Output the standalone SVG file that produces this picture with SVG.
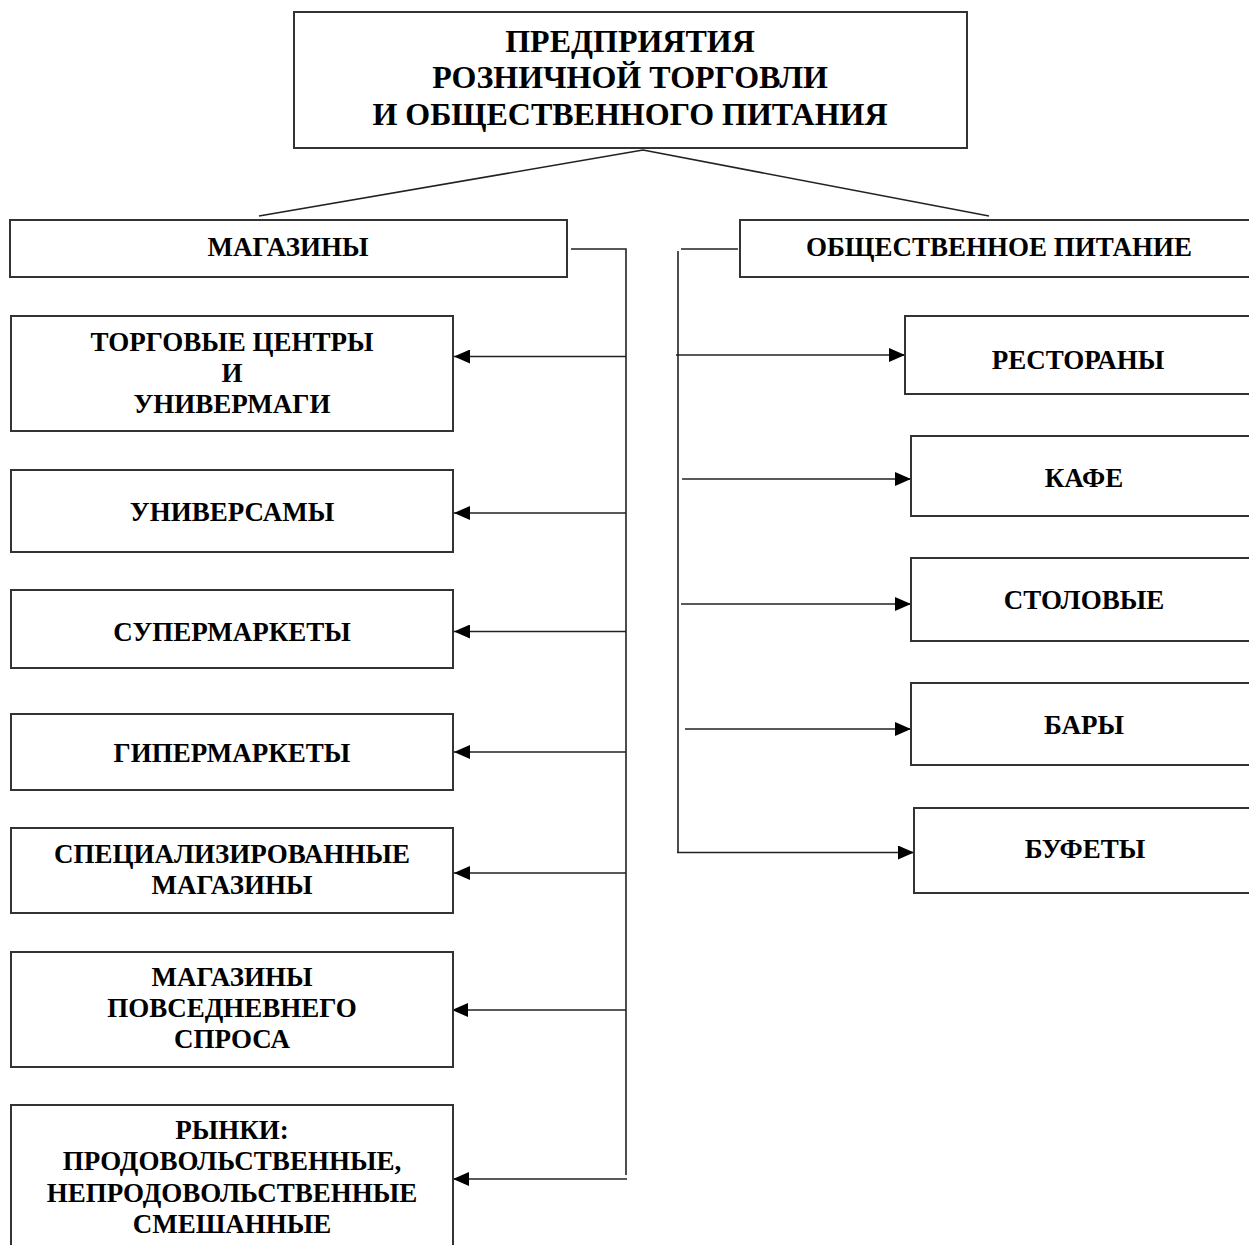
<svg xmlns="http://www.w3.org/2000/svg" width="1249" height="1245" viewBox="0 0 1249 1245">
<defs>
<marker id="arr" markerUnits="userSpaceOnUse" markerWidth="16" markerHeight="14" refX="16" refY="7" orient="auto">
<path d="M0,0 L16,7 L0,14 z" fill="#000"/>
</marker>
<style>
.box{fill:#fff;stroke:#333;stroke-width:2}
.t{font-family:"Liberation Serif","Times New Roman",serif;font-weight:bold;font-size:27px;fill:#000;text-anchor:middle}
.tt{font-size:32px}
.ln{fill:none;stroke:#222;stroke-width:1.6}
.ar{fill:none;stroke:#222;stroke-width:1.6;marker-end:url(#arr)}
</style>
</defs>
<rect width="1249" height="1245" fill="#fff"/>

<g id="connectors">
<path class="ln" d="M643,150 L259,216 M643,150 L989,216"/>
<path class="ln" d="M571,249 H626 V1175"/>
<path class="ln" d="M738,249 H681 M678,251 V852"/>
<line class="ar" x1="626" y1="356.5" x2="454" y2="356.5"/>
<line class="ar" x1="626" y1="513" x2="454" y2="513"/>
<line class="ar" x1="626" y1="631.5" x2="454" y2="631.5"/>
<line class="ar" x1="626" y1="752" x2="454" y2="752"/>
<line class="ar" x1="626" y1="873" x2="454" y2="873"/>
<line class="ar" x1="626" y1="1010" x2="452" y2="1010"/>
<line class="ar" x1="627" y1="1179" x2="453" y2="1179"/>
<line class="ar" x1="676" y1="355" x2="905" y2="355"/>
<line class="ar" x1="682" y1="479" x2="911" y2="479"/>
<line class="ar" x1="681" y1="604" x2="911" y2="604"/>
<line class="ar" x1="685" y1="729" x2="911" y2="729"/>
<line class="ar" x1="677" y1="852.5" x2="914" y2="852.5"/>
</g>

<g id="root">
<rect class="box" x="294" y="12" width="673" height="136"/>
<text class="t tt" x="630" y="52">ПРЕДПРИЯТИЯ</text>
<text class="t tt" x="630" y="88">РОЗНИЧНОЙ ТОРГОВЛИ</text>
<text class="t tt" x="630" y="125">И ОБЩЕСТВЕННОГО ПИТАНИЯ</text>
</g>

<g id="magaziny">
<rect class="box" x="10" y="220" width="557" height="57"/>
<text class="t" x="288" y="256">МАГАЗИНЫ</text>
</g>

<g id="obshchepit">
<rect class="box" x="740" y="220" width="520" height="57"/>
<text class="t" x="999" y="256">ОБЩЕСТВЕННОЕ ПИТАНИЕ</text>
</g>

<g id="torg-centry">
<rect class="box" x="11" y="316" width="442" height="115"/>
<text class="t" x="232" y="351">ТОРГОВЫЕ ЦЕНТРЫ</text>
<text class="t" x="232" y="382">И</text>
<text class="t" x="232" y="413">УНИВЕРМАГИ</text>
</g>

<g id="universamy">
<rect class="box" x="11" y="470" width="442" height="82"/>
<text class="t" x="232" y="521">УНИВЕРСАМЫ</text>
</g>

<g id="supermarkety">
<rect class="box" x="11" y="590" width="442" height="78"/>
<text class="t" x="232" y="641">СУПЕРМАРКЕТЫ</text>
</g>

<g id="gipermarkety">
<rect class="box" x="11" y="714" width="442" height="76"/>
<text class="t" x="232" y="762">ГИПЕРМАРКЕТЫ</text>
</g>

<g id="specializ">
<rect class="box" x="11" y="828" width="442" height="85"/>
<text class="t" x="232" y="863">СПЕЦИАЛИЗИРОВАННЫЕ</text>
<text class="t" x="232" y="894">МАГАЗИНЫ</text>
</g>

<g id="povsednev">
<rect class="box" x="11" y="952" width="442" height="115"/>
<text class="t" x="232" y="986">МАГАЗИНЫ</text>
<text class="t" x="232" y="1017">ПОВСЕДНЕВНЕГО</text>
<text class="t" x="232" y="1048">СПРОСА</text>
</g>

<g id="rynki">
<rect class="box" x="11" y="1105" width="442" height="160"/>
<text class="t" x="232" y="1139">РЫНКИ:</text>
<text class="t" x="232" y="1170">ПРОДОВОЛЬСТВЕННЫЕ,</text>
<text class="t" x="232" y="1202">НЕПРОДОВОЛЬСТВЕННЫЕ</text>
<text class="t" x="232" y="1233">СМЕШАННЫЕ</text>
</g>

<g id="restorany">
<rect class="box" x="905" y="316" width="360" height="78"/>
<text class="t" x="1078" y="369">РЕСТОРАНЫ</text>
</g>

<g id="kafe">
<rect class="box" x="911" y="436" width="360" height="80"/>
<text class="t" x="1084" y="487">КАФЕ</text>
</g>

<g id="stolovye">
<rect class="box" x="911" y="558" width="360" height="83"/>
<text class="t" x="1084" y="609">СТОЛОВЫЕ</text>
</g>

<g id="bary">
<rect class="box" x="911" y="683" width="360" height="82"/>
<text class="t" x="1084" y="734">БАРЫ</text>
</g>

<g id="bufety">
<rect class="box" x="914" y="808" width="360" height="85"/>
<text class="t" x="1085" y="858">БУФЕТЫ</text>
</g>
</svg>
